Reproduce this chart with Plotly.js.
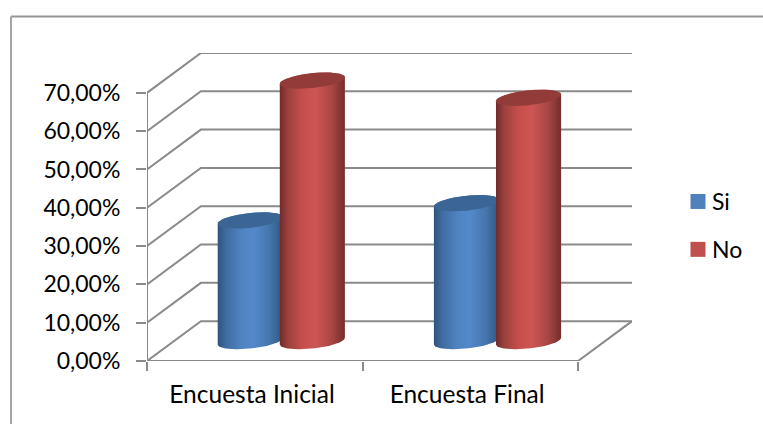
<!DOCTYPE html>
<html>
<head>
<meta charset="utf-8">
<script src="https://cdn.plot.ly/plotly-3.0.1.min.js"></script>
<style>html,body{margin:0;padding:0;background:#fff}#chart{width:763px;height:424px}</style>
</head>
<body>
<div id="chart"></div>
<script>
// Survey results
const categories = ['Encuesta Inicial', 'Encuesta Final'];
const seriesNames = ['Si', 'No'];
const siValues = [31.5, 36];
const noValues = [68, 63.5];
const yTicks = [0, 10, 20, 30, 40, 50, 60, 70];
const yTickLabels = ['0,00%', '10,00%', '20,00%', '30,00%', '40,00%', '50,00%', '60,00%', '70,00%'];

// Oblique projection of the chart box, in axis units
const depthX = 0.25, depthY = 10.4;
const floorLevel = 5.2;           // height of a cylinder's base centre on the floor
const radiusX = 0.151, radiusY = 1.95, tilt = 0.87;
const siCentres = [0.479, 1.482];
const noCentres = [0.767, 1.770];

const gridColor = '#8a8a8a';
const blueRamp = [[0,'#2f5279'],[0.12,'#3f6b9f'],[0.35,'#4f82c0'],[0.55,'#5389cb'],[0.8,'#4675ac'],[1,'#2f5683']];
const redRamp  = [[0,'#6f2b2a'],[0.12,'#9a403e'],[0.35,'#c64f4d'],[0.55,'#cd5654'],[0.8,'#a84644'],[1,'#742d2b']];

function line(xs, ys, width) {
  return {x: xs, y: ys, type: 'scatter', mode: 'lines', showlegend: false, hoverinfo: 'skip',
          line: {color: gridColor, width: width || 2}};
}

// Point on the rim of an ellipse centred at (cx, cy), angle in radians
function rim(cx, cy, t) {
  return [cx + radiusX * Math.cos(t), cy + radiusY * Math.sin(t) + tilt * Math.cos(t)];
}

function cylinder(cx, value, ramp, capColor, name) {
  const top = floorLevel + value, xs = [], ys = [];
  for (let i = 0; i <= 48; i++) {
    const p = rim(cx, top, Math.PI - Math.PI * i / 48);
    xs.push(p[0]); ys.push(p[1]);
  }
  for (let i = 0; i <= 48; i++) {
    const p = rim(cx, floorLevel, -Math.PI * i / 48);
    xs.push(p[0]); ys.push(p[1]);
  }
  const body = {x: xs, y: ys, type: 'scatter', mode: 'lines', fill: 'toself', showlegend: false,
    hoverinfo: 'skip', line: {width: 0, color: 'rgba(0,0,0,0)'},
    fillgradient: {type: 'horizontal', colorscale: ramp, start: cx - radiusX, stop: cx + radiusX}, name: name};
  const cx2 = [], cy2 = [];
  for (let i = 0; i <= 96; i++) {
    const p = rim(cx, top, 2 * Math.PI * i / 96);
    cx2.push(p[0]); cy2.push(p[1]);
  }
  const cap = {x: cx2, y: cy2, type: 'scatter', mode: 'lines', fill: 'toself', fillcolor: capColor,
    showlegend: false, hoverinfo: 'skip', line: {width: 0, color: 'rgba(0,0,0,0)'}};
  return [body, cap];
}

const traces = [];

// Back wall gridlines with their side-wall returns
yTicks.forEach(v => {
  traces.push(line([0, depthX, 2 + depthX], [v, v + depthY, v + depthY]));
});
// Floor outline and the vertical axis line
traces.push(line([0, 2, 2 + depthX], [0, 0, depthY]));
traces.push(line([0, 0], [0, 70]));

// One pair of cylinders per survey, the red one in front
categories.forEach((c, i) => {
  traces.push(...cylinder(siCentres[i], siValues[i], blueRamp, '#3b6595', seriesNames[0]));
  traces.push(...cylinder(noCentres[i], noValues[i], redRamp, '#933b39', seriesNames[1]));
});

// Legend entries
traces.push({x: [null], y: [null], type: 'scatter', mode: 'markers', name: seriesNames[0], legendgroup: 'si',
  marker: {symbol: 'square', size: 15, color: '#4f81bd'}, hoverinfo: 'skip'});
traces.push({x: [null], y: [null], type: 'scatter', mode: 'markers', name: seriesNames[1], legendgroup: 'no',
  marker: {symbol: 'square', size: 15, color: '#c0504d'}, hoverinfo: 'skip'});

const fontFamily = 'Lato, "Open Sans", sans-serif';

const layout = {
  width: 763, height: 424,
  margin: {l: 147, r: 131, t: 53, b: 63, pad: 0},
  paper_bgcolor: '#ffffff', plot_bgcolor: '#ffffff',
  showlegend: true,
  legend: {xref: 'container', yref: 'container', x: 678 / 763, xanchor: 'left', y: 1 - 180 / 424, yanchor: 'top',
           tracegroupgap: 15, font: {family: fontFamily, size: 23, color: '#000000'},
           bgcolor: 'rgba(0,0,0,0)', itemclick: false, itemdoubleclick: false},
  xaxis: {range: [0, 2 + depthX], showgrid: false, zeroline: false, showline: false,
          tickmode: 'array', tickvals: [0.487, 1.485], ticktext: categories, ticks: '',
          tickfont: {family: fontFamily, size: 24.5, color: '#000000'}, ticklabelstandoff: 16,
          minor: {tickmode: 'array', tickvals: [0, 1, 2], ticks: 'outside', ticklen: 9, tickwidth: 2, tickcolor: gridColor}},
  yaxis: {range: [0, 80.4], showgrid: false, zeroline: false, showline: false,
          tickmode: 'array', tickvals: yTicks, ticktext: yTickLabels, ticks: 'outside', ticklen: 10,
          tickwidth: 2, tickcolor: gridColor, tickfont: {family: fontFamily, size: 23, color: '#000000'}, ticklabelstandoff: 11},
  shapes: [
    {type: 'line', xref: 'paper', yref: 'paper', x0: -136 / 485, x1: 1.3, y0: 1 + 36.5 / 308, y1: 1 + 36.5 / 308,
     line: {color: '#969696', width: 2}},
    {type: 'line', xref: 'paper', yref: 'paper', x0: -136 / 485, x1: -136 / 485, y0: 1 + 36.5 / 308, y1: -0.25,
     line: {color: '#a6a6a6', width: 2}}
  ]
};

Plotly.newPlot('chart', traces, layout, {displayModeBar: false, staticPlot: true}).then(gd => {
  // Tighten the gap between each legend swatch and its label
  gd.querySelectorAll('.legendtext').forEach(t => {
    t.setAttribute('x', parseFloat(t.getAttribute('x')) - 6);
  });
});
</script>
</body>
</html>
